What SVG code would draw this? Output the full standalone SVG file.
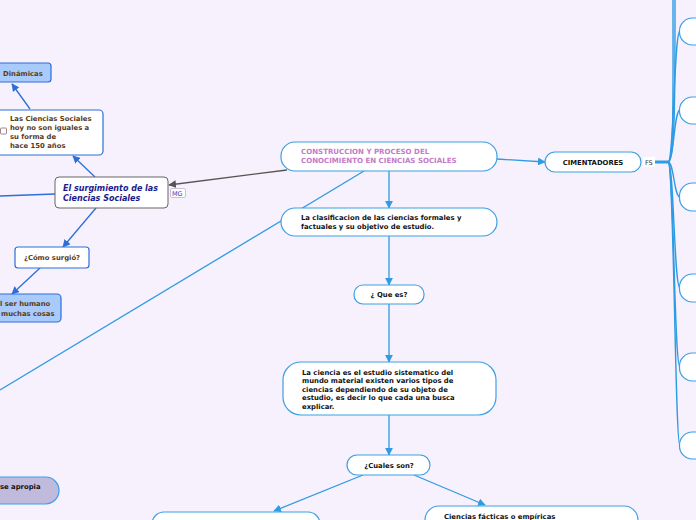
<svg xmlns="http://www.w3.org/2000/svg" width="696" height="520" viewBox="0 0 696 520">
<defs>
<style>
.t{font-family:"DejaVu Sans",Verdana,sans-serif;font-weight:bold;font-size:6.85px;fill:#111}
.br{fill:#5b3a17;font-size:6.85px}
.pk{fill:#c57ac9;font-size:7.05px}
.lb{fill:#fff;stroke:#3c9fe4;stroke-width:1.2}
.db{fill:#fff;stroke:#2c6fd8;stroke-width:1.2}
.dbf{fill:#a9cbfb;stroke:#2c6fd8;stroke-width:1.2}
.c1{fill:none;stroke:#2e9be3;stroke-width:1.3}
.c2{fill:none;stroke:#2c6fd8;stroke-width:1.3}
.c3{fill:none;stroke:#555;stroke-width:1.3}
.tr{fill:none;stroke:#2e9be3;stroke-width:1.4}
</style>
<marker id="a1" viewBox="0 0 10 10" refX="9" refY="5" markerWidth="6" markerHeight="6" orient="auto"><path d="M0,0 L10,5 L0,10 z" fill="#2e9be3"/></marker>
<marker id="a2" viewBox="0 0 10 10" refX="9" refY="5" markerWidth="6" markerHeight="6" orient="auto"><path d="M0,0 L10,5 L0,10 z" fill="#2c6fd8"/></marker>
<marker id="a3" viewBox="0 0 10 10" refX="9" refY="5" markerWidth="6" markerHeight="6" orient="auto"><path d="M0,0 L10,5 L0,10 z" fill="#555"/></marker>
</defs>
<rect width="696" height="520" fill="#f7f0fd"/>
<g id="connectors">
<line class="c1" x1="364" y1="171" x2="0" y2="390"/>
<line class="c3" x1="287" y1="170" x2="169" y2="185" marker-end="url(#a3)"/>
<line class="c2" x1="0" y1="196" x2="55" y2="194"/>
<line class="c2" x1="95" y1="177" x2="73" y2="156" marker-end="url(#a2)"/>
<line class="c2" x1="30" y1="109" x2="12" y2="84" marker-end="url(#a2)"/>
<line class="c2" x1="96" y1="208" x2="63" y2="247" marker-end="url(#a2)"/>
<line class="c2" x1="40" y1="268" x2="12" y2="294" marker-end="url(#a2)"/>
<line class="c1" x1="497" y1="159" x2="545" y2="162" marker-end="url(#a1)"/>
<line class="c1" x1="389" y1="171" x2="389" y2="208" marker-end="url(#a1)"/>
<line class="c1" x1="389" y1="236" x2="389" y2="285" marker-end="url(#a1)"/>
<line class="c1" x1="389" y1="304" x2="389" y2="362" marker-end="url(#a1)"/>
<line class="c1" x1="389" y1="415" x2="389" y2="455" marker-end="url(#a1)"/>
<line class="c1" x1="363" y1="475" x2="274" y2="511" marker-end="url(#a1)"/>
<line class="c1" x1="414" y1="475" x2="485" y2="505" marker-end="url(#a1)"/>
<line x1="655" y1="162" x2="669" y2="162" stroke="#2e9be3" stroke-width="3"/>
<path class="tr" d="M668,162 C674,162 673,100 673,0" stroke-width="2.2"/>
<path class="tr" d="M668,162 C675,162 675,100 675,0"/>
<path class="tr" d="M668,162 C674,162 674,31 680,31"/>
<path class="tr" d="M668,162 C674,162 674,110 680,110"/>
<path class="tr" d="M668,162 C674,162 674,197 680,197"/>
<path class="tr" d="M668,162 C674,162 674,288 680,288"/>
<path class="tr" d="M668,162 C674,162 674,367 680,367"/>
<path class="tr" d="M668,162 C674,162 675,446 680,446"/>
</g>
<g id="n-dinamicas"><rect class="dbf" x="-10" y="63" width="61" height="19" rx="3"/><text class="t br" x="3" y="76">Dinámicas</text></g>
<g id="n-hoy"><rect class="db" x="-10" y="110" width="113" height="45" rx="4"/><rect x="0.5" y="128" width="6" height="6" rx="1" fill="#fff" stroke="#8a6a6a" stroke-width="0.8"/><text class="t br" x="10" y="121">Las Ciencias Sociales</text><text class="t br" x="10" y="130">hoy no son iguales a</text><text class="t br" x="10" y="138.5">su forma de</text><text class="t br" x="10" y="147.5">hace 150 años</text></g>
<g id="n-surgimiento"><rect x="55" y="177" width="113" height="31" rx="4" fill="#fff" stroke="#666" stroke-width="1"/><text font-family="DejaVu Sans,Verdana,sans-serif" font-weight="bold" font-style="italic" font-size="8" fill="#1a1a8c" x="63" y="191">El surgimiento de las</text><text font-family="DejaVu Sans,Verdana,sans-serif" font-weight="bold" font-style="italic" font-size="8" fill="#1a1a8c" x="63" y="201">Ciencias Sociales</text></g>
<g id="n-mg"><rect x="170.5" y="188.5" width="15" height="9" rx="1.5" fill="#fff" stroke="#c8c0e0" stroke-width="1"/><text font-family="DejaVu Sans,Verdana,sans-serif" font-size="6.5" fill="#4040b0" x="172" y="196">MG</text></g>
<g id="n-como"><rect class="db" x="15" y="247" width="74" height="21" rx="3"/><text class="t br" x="52" y="260" text-anchor="middle">¿Cómo surgió?</text></g>
<g id="n-humano"><rect class="dbf" x="-10" y="294" width="71" height="28" rx="4"/><text class="t br" x="0" y="306">l ser humano</text><text class="t br" x="1" y="316">muchas cosas</text></g>
<g id="n-construccion"><rect class="lb" x="281" y="142" width="216" height="29" rx="14"/><text class="t pk" x="301" y="153.5">CONSTRUCCION Y PROCESO DEL</text><text class="t pk" x="301" y="163">CONOCIMIENTO EN CIENCIAS SOCIALES</text></g>
<g id="n-cimentadores"><rect class="lb" x="545" y="152" width="96" height="20" rx="10"/><text class="t" x="593" y="164.5" text-anchor="middle">CIMENTADORES</text></g>
<g id="n-fs"><rect x="643" y="157" width="12" height="10" fill="#fff"/><text font-family="DejaVu Sans,Verdana,sans-serif" font-size="6.5" fill="#333" x="645" y="164.5">FS</text></g>
<g id="n-r0"><rect class="lb" x="680" y="-30" width="40" height="28" rx="13"/></g>
<g id="n-r1"><rect class="lb" x="679.5" y="18" width="40" height="27" rx="13"/></g>
<g id="n-r2"><rect class="lb" x="679.5" y="97" width="40" height="27" rx="13"/></g>
<g id="n-r3"><rect class="lb" x="679.5" y="183" width="40" height="28" rx="13"/></g>
<g id="n-r4"><rect class="lb" x="679.5" y="274" width="40" height="28" rx="13"/></g>
<g id="n-r5"><rect class="lb" x="679.5" y="353" width="40" height="28" rx="13"/></g>
<g id="n-r6"><rect class="lb" x="679.5" y="432" width="40" height="27" rx="13"/></g>
<g id="n-clasificacion"><rect class="lb" x="281" y="208" width="216" height="28" rx="14"/><text class="t" x="301" y="220">La clasificacion de las ciencias formales y</text><text class="t" x="301" y="229">factuales y su objetivo de estudio.</text></g>
<g id="n-quees"><rect class="lb" x="354" y="285" width="70" height="19" rx="9"/><text class="t" x="389" y="297" text-anchor="middle">¿ Que es?</text></g>
<g id="n-ciencia"><rect class="lb" x="283" y="362" width="213" height="53" rx="18"/><text class="t" x="302" y="374.5">La ciencia es el estudio sistematico del</text><text class="t" x="302" y="383">mundo material existen varios tipos de</text><text class="t" x="302" y="391.5">ciencias dependiendo de su objeto de</text><text class="t" x="302" y="400">estudio, es decir lo que cada una busca</text><text class="t" x="302" y="409">explicar.</text></g>
<g id="n-cuales"><rect class="lb" x="347" y="455" width="83" height="20" rx="10"/><text class="t" x="389" y="467.5" text-anchor="middle">¿Cuales son?</text></g>
<g id="n-formales"><rect class="lb" x="152" y="512" width="168" height="30" rx="12"/></g>
<g id="n-facticas"><rect class="lb" x="425" y="506" width="213" height="36" rx="14"/><text class="t" x="444" y="519">Ciencias fácticas o empíricas</text></g>
<g id="n-apropia"><rect x="-30" y="477" width="89" height="27" rx="13.5" fill="#c0badc" stroke="#3c9fe4" stroke-width="1.2"/><text class="t" x="0" y="488.5">se apropia</text></g>
</svg>
